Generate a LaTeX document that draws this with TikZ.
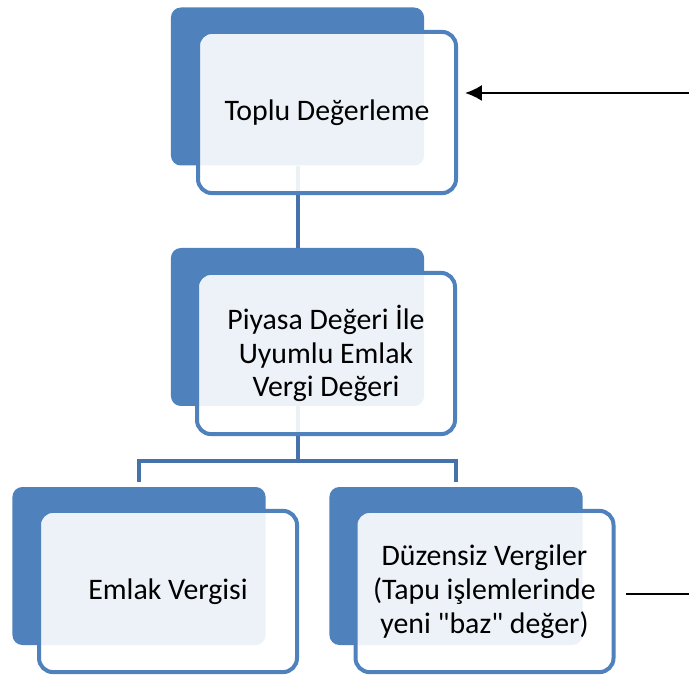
\documentclass[tikz,border=0pt]{standalone}
\usepackage{fontspec}
\setmainfont{Carlito}
\usepackage{xcolor}
\usepackage{tikz}
\usetikzlibrary{arrows.meta}
\definecolor{cardblue}{HTML}{4F81BD}
\definecolor{linkblue}{HTML}{4672AB}

\begin{document}
\begin{tikzpicture}[
    back/.style={rectangle, fill=cardblue, rounded corners=0.25cm,
                 minimum width=6.33cm, minimum height=3.95cm},
    card/.style={rectangle, draw=cardblue, line width=0.1cm, fill=white,
                 fill opacity=0.9, text opacity=1, rounded corners=0.35cm,
                 minimum width=6.45cm, minimum height=4.03cm, align=center,
                 font=\fontsize{21.2}{24}\selectfont},
    link/.style={linkblue, line width=0.1cm},
    arrow/.style={-{Latex[length=4.2mm, width=4mm]}, line width=1.6pt},
]
    \useasboundingbox (0,0) rectangle (17.225,16.875);

    % Back cards
    \node[back] (b1) at (7.4375, 14.7125) {};
    \node[back] (b2) at (7.4375, 8.7) {};
    \node[back] (b3) at (3.475, 2.725) {};
    \node[back] (b4) at (11.4, 2.725) {};

    % Connectors
    \draw[link] (b1.south) -- (b2.north);
    \coordinate (bar) at (7.4375, 5.35);
    \draw[link] (b2.south) -- (bar);
    \draw[link, shorten <=0.13cm] (b3.north) |- (bar) -| ([yshift=0.13cm]b4.north);

    % Front cards
    \node[card] (c1) at (8.175, 14.0625) {Toplu Değerleme};
    \node[card] (c2) at (8.15, 8.0375) {Piyasa Değeri İle\\Uyumlu Emlak\\Vergi Değeri};
    \node[card] (c3) at (4.2, 2.0875) {Emlak Vergisi};
    \node[card] (c4) at (12.1125, 2.0875) {Düzensiz Vergiler\\(Tapu işlemlerinde\\yeni \textquotedbl baz\textquotedbl{} değer)};

    % Outside links
    \coordinate (in1) at (17.225, 14.55);
    \draw[arrow, shorten >=0.175cm] (in1) -- (in1 -| c1.east);
    \coordinate (out4) at (17.225, 2.025);
    \draw[line width=1.6pt, shorten >=0.25cm] (out4) -- (out4 -| c4.east);
\end{tikzpicture}
\end{document}
